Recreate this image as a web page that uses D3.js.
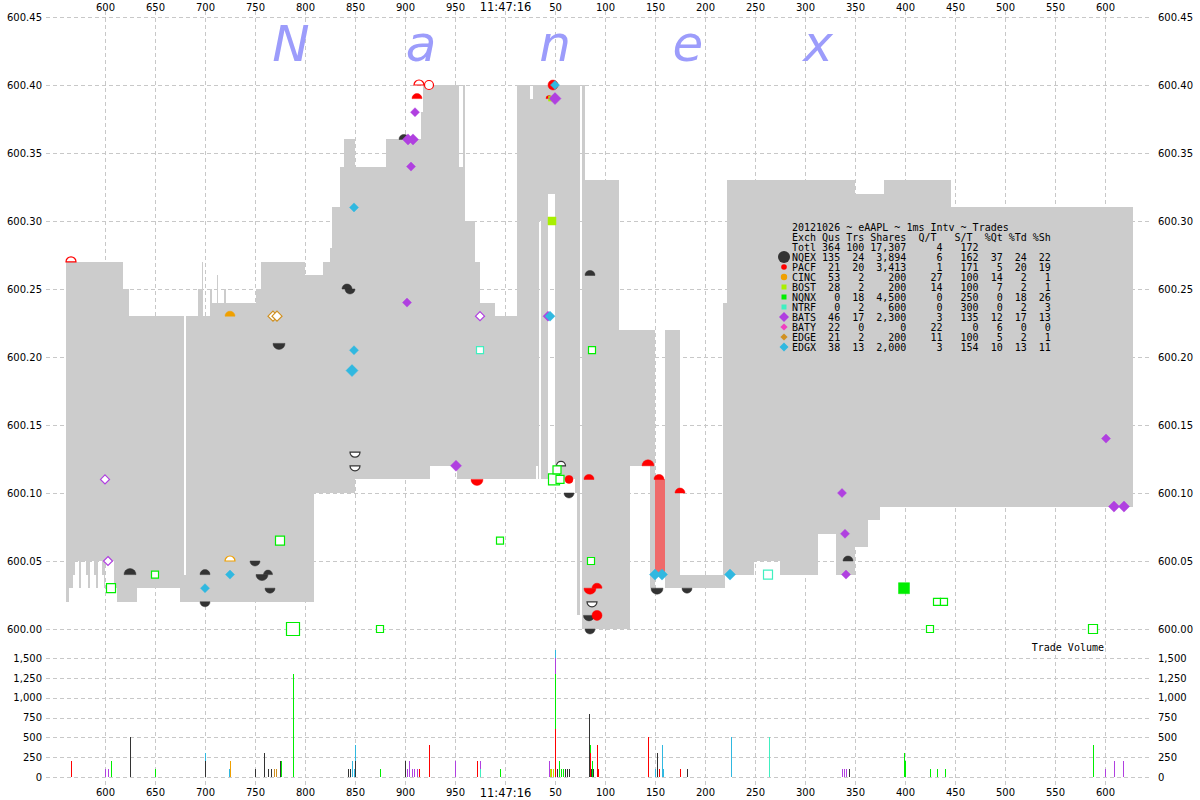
<!DOCTYPE html>
<html><head><meta charset="utf-8">
<script src="https://cdn.jsdelivr.net/npm/d3@7"></script>
<style>body{margin:0;background:#fff}svg{display:block}</style>
</head><body>
<svg id="c" width="1200" height="800"></svg>
<script>
// ---- NBBO step data (ms after 11:47:15.000) ----
const nbboTime = [561,564,568,570,574,576,581,583,585,589,591,593,597,599,600,609,612,618,624,632,675,679,681,693,697,698,705,707,712,713,719,721,751,756,800,809,818,825,827,835,839,850,881,916,918,925,952,954,958,960,970,975,990,1012,1025,1028,1031,1033,1034,1036,1043,1050,1070,1072,1075,1077,1080,1114,1125,1145,1150,1160,1175,1218,1220,1222,1249,1275,1313,1331,1350,1363,1375,1379,1446];
const nbboBid  = [600.02,600.03,600.04,600.05,600.03,600.05,600.04,600.03,600.05,600.04,600.03,600.05,600.04,600.03,600.05,600.03,600.02,600.02,600.02,600.03,600.02,600.02,600.02,600.02,600.02,600.02,600.02,600.02,600.02,600.02,600.02,600.02,600.02,600.02,600.02,600.10,600.10,600.10,600.10,600.10,600.10,600.11,600.11,600.11,600.11,600.12,600.11,600.11,600.11,600.11,600.11,600.11,600.11,600.11,600.11,600.11,600.12,600.11,600.30,600.11,600.32,600.11,600.10,600.01,600.40,600.00,600.00,600.00,600.12,600.03,600.11,600.03,600.03,600.03,600.04,600.04,600.05,600.04,600.07,600.04,600.06,600.08,600.09,600.09,600.09];
const nbboAsk  = [600.27,600.27,600.27,600.27,600.27,600.27,600.27,600.27,600.27,600.27,600.27,600.27,600.27,600.27,600.27,600.27,600.27,600.25,600.23,600.23,600.23,600.04,600.23,600.25,600.27,600.23,600.25,600.24,600.26,600.24,600.25,600.24,600.25,600.27,600.26,600.26,600.27,600.28,600.31,600.34,600.36,600.34,600.36,600.38,600.40,600.40,600.40,600.34,600.40,600.30,600.27,600.24,600.23,600.40,600.39,600.40,600.40,600.40,600.40,600.40,600.40,600.40,600.40,600.40,600.40,600.40,600.33,600.22,600.22,600.22,600.04,600.22,600.04,600.24,600.24,600.33,600.33,600.33,600.33,600.33,600.32,600.32,600.32,600.33,600.31];
const nbboEnd = 1628;

// ---- exchanges / legend ----
const exchanges = ["NQEX","PACF","CINC","BOST","NQNX","NTRF","BATS","BATY","EDGE","EDGX"];
const exColors  = ["#333333","#ff0000","#f0a000","#a8f000","#00ee00","#40f0c0","#b040e0","#f040c0","#d09020","#30b8e0"];
const legQus    = [135,21,53,28,0,0,46,22,21,38];
const legTrs    = [24,20,2,2,18,2,17,0,2,13];
const legShares = [3894,3413,200,200,4500,600,2300,0,200,2000];
const legQT     = [6,1,27,14,0,0,3,22,11,3];
const legST     = [162,171,100,100,250,300,135,0,100,154];
const legPQt    = [37,5,14,7,0,0,12,6,5,10];
const legPTd    = [24,20,2,2,18,2,17,0,2,13];
const legPSh    = [22,19,1,1,26,3,13,0,1,11];
const legTotal  = [364,100,17307,4,172];
const legTitle  = "20121026 ~ eAAPL ~ 1ms Intv ~ Trades";

// ---- quote / trade markers: [ms, price, exch, shape, filled, size] ----
const markers = [
 [566,600.27,"PACF","dome",0,5],
 [842,600.25,"NQEX","dome",1,5],[845,600.25,"NQEX","bowl",1,5],
 [725,600.23,"CINC","dome",1,5],
 [768,600.23,"EDGE","diamond",0,5],[772,600.23,"EDGE","diamond",0,5],
 [774,600.21,"NQEX","bowl",1,6],
 [849,600.205,"EDGX","diamond",1,4.5],[847,600.19,"EDGX","diamond",1,6],
 [850,600.13,"NQEX","bowl",0,5],[850,600.12,"NQEX","bowl",0,5],
 [600,600.11,"BATS","diamond",0,4.5],[603,600.05,"BATS","diamond",0,4.5],
 [625,600.04,"NQEX","dome",1,6],
 [650,600.04,"NQNX","square",0,7],[606,600.03,"NQNX","square",0,9],
 [700,600.04,"NQEX","dome",1,5],
 [725,600.04,"EDGX","diamond",1,4.5],[725,600.05,"CINC","dome",0,5],
 [750,600.05,"NQEX","bowl",1,5],[757,600.04,"NQEX","bowl",1,6],[763,600.04,"NQEX","dome",1,4.5],
 [700,600.03,"EDGX","diamond",1,4.5],[765,600.03,"NQEX","bowl",1,5],[700,600.02,"NQEX","bowl",1,5],
 [788,600.00,"NQNX","square",0,13],[775,600.065,"NQNX","square",0,9],[875,600.00,"NQNX","square",0,7],
 [914,600.40,"PACF","dome",0,5],[924,600.40,"PACF","circle",0,4.5],[912,600.39,"PACF","dome",1,5],
 [910,600.38,"BATS","diamond",1,4.5],[899,600.36,"NQEX","dome",1,5],
 [903,600.36,"BATS","diamond",1,5.5],[908,600.36,"BATS","diamond",1,5.5],[906,600.34,"BATS","diamond",1,4.5],
 [849,600.31,"EDGX","diamond",1,4.5],[902,600.24,"BATS","diamond",1,4.5],
 [975,600.23,"BATS","diamond",0,4.5],[975,600.205,"NTRF","square",0,7],
 [1043,600.23,"BATS","diamond",1,5],[1045,600.23,"EDGX","diamond",1,5],
 [1087,600.205,"NQNX","square",0,7],
 [951,600.12,"BATS","diamond",1,5.5],[972,600.11,"PACF","bowl",1,6],
 [1056,600.12,"NQEX","dome",0,4.5],
 [1049,600.11,"NQNX","square",0,11],[1052,600.117,"NQNX","square",0,8],[1055,600.11,"NQNX","square",0,8],
 [1064,600.11,"PACF","circle",1,4],
 [1085,600.26,"NQEX","dome",1,5],[1084,600.11,"PACF","dome",1,5],[1064,600.10,"NQEX","bowl",1,5],
 [1047,600.30,"BOST","square",1,8],
 [1048,600.40,"PACF","circle",1,5],[1050,600.40,"EDGX","diamond",1,4.5],
 [1044,600.39,"PACF","dome",1,3],[1046,600.39,"BOST","square",1,5],[1050,600.39,"BATS","diamond",1,6],
 [1143,600.12,"PACF","dome",1,6],[1154,600.11,"PACF","dome",1,5],[1175,600.10,"PACF","dome",1,5],
 [995,600.065,"NQNX","square",0,7],[1086,600.05,"NQNX","square",0,7],
 [1150,600.04,"EDGX","diamond",1,5.5],[1157,600.04,"EDGX","diamond",1,5.5],[1225,600.04,"EDGX","diamond",1,5.5],
 [1152,600.03,"NQEX","bowl",1,6],[1182,600.03,"NQEX","bowl",1,5],
 [1085,600.03,"PACF","bowl",1,6],[1092,600.03,"PACF","dome",1,5],
 [1087,600.02,"NQEX","bowl",0,5],[1084,600.01,"NQEX","bowl",1,5.5],[1092,600.01,"PACF","circle",1,5],
 [1085,600.00,"NQEX","bowl",1,5],
 [1601,600.14,"BATS","diamond",1,4.5],[1609,600.09,"BATS","diamond",1,5.5],[1619,600.09,"BATS","diamond",1,5.5],
 [1337,600.10,"BATS","diamond",1,4.5],[1340,600.07,"BATS","diamond",1,4.5],
 [1343,600.05,"NQEX","dome",1,5],[1341,600.04,"BATS","diamond",1,4.5],
 [1263,600.04,"NTRF","square",0,9],[1399,600.03,"NQNX","square",1,11],
 [1432,600.02,"NQNX","square",0,7],[1439,600.02,"NQNX","square",0,7],
 [1425,600.00,"NQNX","square",0,7],[1588,600.00,"NQNX","square",0,9]
];

// ---- trade volume: [ms, exch, shares] ----
const volumes = [
 [566,"PACF",200],[600,"BATS",100],[603,"BATS",100],[606,"NQNX",200],[625,"NQEX",500],[650,"NQNX",100],
 [700,"NQEX",200],[700,"EDGX",100],[724,"EDGX",100],[725,"CINC",200],[750,"NQEX",100],[759,"NQEX",300],
 [763,"NQEX",100],[766,"NQEX",100],[769,"EDGE",100],[771,"EDGE",100],[775,"NQEX",200],[776,"NQNX",200],
 [788,"NQNX",1300],[843,"NQEX",100],[845,"NQEX",100],[847,"EDGX",200],[849,"EDGX",100],
 [850,"NQEX",200],[850,"EDGX",200],[875,"NQNX",100],[900,"NQEX",200],[902,"BATS",100],[904,"BATS",200],
 [907,"BATS",100],[909,"BATS",100],[912,"BATS",100],[914,"PACF",100],[924,"PACF",400],[950,"BATS",200],
 [972,"PACF",200],[975,"NTRF",100],[975,"BATS",100],[995,"NQNX",100],
 [1044,"BATS",200],[1045,"BOST",100],[1046,"CINC",100],[1048,"BOST",100],
 [1050,"PACF",600],[1050,"NQNX",700],[1050,"BATS",200],[1050,"EDGX",100],
 [1052,"NQEX",100],[1054,"NQNX",200],[1056,"NQNX",100],[1058,"NQNX",100],[1060,"NQEX",100],[1062,"NQEX",100],[1064,"NQEX",100],
 [1084,"NQEX",800],[1085,"PACF",300],[1085,"NQNX",100],[1086,"NQEX",100],[1087,"NQNX",200],[1088,"NQEX",100],
 [1092,"PACF",400],[1093,"PACF",100],
 [1143,"PACF",500],[1150,"EDGX",100],[1152,"NQEX",300],[1154,"PACF",100],[1157,"EDGX",400],[1158,"EDGX",100],
 [1175,"PACF",100],[1182,"NQEX",100],[1226,"EDGX",500],[1264,"NTRF",500],
 [1337,"BATS",100],[1339,"BATS",100],[1341,"BATS",100],[1344,"NQEX",100],
 [1399,"NQNX",300],[1400,"NQNX",200],[1425,"NQNX",100],[1432,"NQNX",100],[1440,"NQNX",100],
 [1588,"NQNX",400],[1600,"BATS",100],[1609,"BATS",200],[1618,"BATS",200]
];

const timeTicks  = d3.range(600, 1601, 50);
const priceTicks = d3.range(0, 10).map(i => 600 + i * 0.05);
const volTicks   = [0,250,500,750,1000,1250,1500];
const watermark  = ["N","a","n","e","x"];
const watermarkT = [786, 916, 1050, 1183, 1313];

// ---- scales ----
const svg = d3.select("#c");
const x  = d3.scaleLinear().domain([541, 1646]).range([46, 1151]);
const y  = d3.scaleLinear().domain([600.00, 600.45]).range([629, 17]);
const yv = d3.scaleLinear().domain([0, 1500]).range([777, 658]);
const col = d3.scaleOrdinal().domain(exchanges).range(exColors);
const FONT = "'DejaVu Sans', Verdana, sans-serif";
const MONO = "'DejaVu Sans Mono', monospace";

svg.append("rect").attr("width",1200).attr("height",800).attr("fill","#fff");

// ---- grid ----
const grid = svg.append("g").attr("stroke","#c8c8c8").attr("stroke-dasharray","4,3").attr("shape-rendering","crispEdges");
grid.selectAll(".vx").data(timeTicks).join("line")
  .attr("x1",d=>x(d)+0.5).attr("x2",d=>x(d)+0.5).attr("y1",11).attr("y2",787);
grid.selectAll(".hp").data(priceTicks).join("line")
  .attr("x1",46).attr("x2",1151).attr("y1",d=>Math.round(y(d))+0.5).attr("y2",d=>Math.round(y(d))+0.5);
grid.selectAll(".hv").data(volTicks).join("line")
  .attr("x1",46).attr("x2",1151).attr("y1",d=>Math.round(yv(d))+0.5).attr("y2",d=>Math.round(yv(d))+0.5);

// ---- watermark ----
svg.append("g").selectAll("text").data(watermark).join("text")
  .attr("x",(d,i)=>x(watermarkT[i])).attr("y",61).attr("text-anchor","middle")
  .attr("font-family",FONT).attr("font-style","italic").attr("font-size",50)
  .attr("fill","#9c9cfb").text(d=>d);

// ---- NBBO spread ----
const segs = nbboTime.map((t,i)=>({t0:t, t1: i<nbboTime.length-1 ? nbboTime[i+1] : nbboEnd, bid:nbboBid[i], ask:nbboAsk[i]}));
svg.append("g").attr("shape-rendering","crispEdges").selectAll("rect").data(segs).join("rect")
  .attr("x",d=>x(d.t0)).attr("width",d=>x(d.t1)-x(d.t0))
  .attr("y",d=>Math.round(y(Math.max(d.bid,d.ask))))
  .attr("height",d=>Math.abs(Math.round(y(d.bid))-Math.round(y(d.ask))))
  .attr("fill",d=>d.bid>d.ask ? "#ef6a6a" : "#cccccc");

// ---- markers ----
function shapePath(shape, cx, cy, s){
  if(shape==="dome") return `M${cx-s},${cy}A${s},${s} 0 0 1 ${cx+s},${cy}Z`;
  if(shape==="bowl") return `M${cx-s},${cy}A${s},${s} 0 0 0 ${cx+s},${cy}Z`;
  if(shape==="diamond") return `M${cx},${cy-s}L${cx+s},${cy}L${cx},${cy+s}L${cx-s},${cy}Z`;
  if(shape==="square") return `M${cx-s/2},${cy-s/2}h${s}v${s}h${-s}Z`;
  return `M${cx-s},${cy}A${s},${s} 0 1 0 ${cx+s},${cy}A${s},${s} 0 1 0 ${cx-s},${cy}Z`;
}
svg.append("g").selectAll("path").data(markers).join("path")
  .attr("d",d=>shapePath(d[3], x(d[0]), y(d[1]), d[5]))
  .attr("fill",d=>d[4] ? col(d[2]) : "#fff")
  .attr("stroke",d=>col(d[2])).attr("stroke-width",d=>d[4]?0.5:1.2);

// ---- volume bars (stacked per ms) ----
const stackTop = {};
const volBars = volumes.map(v=>{ const b = stackTop[v[0]]||0; stackTop[v[0]] = b+v[2]; return {t:v[0], ex:v[1], y0:b, y1:b+v[2]}; });
svg.append("g").attr("shape-rendering","crispEdges").selectAll("rect").data(volBars).join("rect")
  .attr("x",d=>x(d.t)).attr("width",1.4)
  .attr("y",d=>yv(d.y1)).attr("height",d=>yv(d.y0)-yv(d.y1))
  .attr("fill",d=>col(d.ex));

// ---- axes ----
const tfmt = t => t===1000 ? "11:47:16" : String(t%1000);
function styleAxis(g){
  g.select(".domain").remove();
  g.selectAll("text").attr("font-family",FONT).attr("font-size",10).attr("fill","#000");
}
svg.append("g").attr("transform","translate(0,12)")
  .call(d3.axisTop(x).tickValues(timeTicks).tickFormat(tfmt).tickSize(0).tickPadding(1)).call(styleAxis)
  .selectAll("text").filter(d=>d===1000).attr("font-size",11.5);
svg.append("g").attr("transform","translate(0,789)")
  .call(d3.axisBottom(x).tickValues(timeTicks).tickFormat(tfmt).tickSize(0).tickPadding(0)).call(styleAxis)
  .selectAll("text").filter(d=>d===1000).attr("font-size",11.5);
const pfmt = d3.format(".2f");
svg.append("g").attr("transform","translate(42,0)")
  .call(d3.axisLeft(y).tickValues(priceTicks).tickFormat(pfmt).tickSize(0).tickPadding(0)).call(styleAxis);
svg.append("g").attr("transform","translate(1158,0)")
  .call(d3.axisRight(y).tickValues(priceTicks).tickFormat(pfmt).tickSize(0).tickPadding(0)).call(styleAxis);
const vfmt = d3.format(",");
svg.append("g").attr("transform","translate(42,0)")
  .call(d3.axisLeft(yv).tickValues(volTicks).tickFormat(vfmt).tickSize(0).tickPadding(0)).call(styleAxis);
svg.append("g").attr("transform","translate(1158,0)")
  .call(d3.axisRight(yv).tickValues(volTicks).tickFormat(vfmt).tickSize(0).tickPadding(0)).call(styleAxis);
svg.selectAll(".tick line").remove();

svg.append("text").attr("x",1104).attr("y",651).attr("text-anchor","end")
  .attr("font-family",MONO).attr("font-size",10).text("Trade Volume");

// ---- legend ----
const pad = (v,w)=>String(v).padStart(w," ");
const cf = d3.format(",");
const legLines = [
  legTitle,
  "Exch Qus Trs Shares  Q/T   S/T  %Qt %Td %Sh",
  "Totl " + pad(legTotal[0],3)+" "+pad(legTotal[1],3)+" "+pad(cf(legTotal[2]),6)+pad(legTotal[3],6)+pad(legTotal[4],6)
].concat(exchanges.map((e,i)=> e+" "+pad(legQus[i],3)+" "+pad(legTrs[i],3)+" "+pad(cf(legShares[i]),6)+pad(legQT[i],6)+pad(legST[i],6)+pad(legPQt[i],4)+pad(legPTd[i],4)+pad(legPSh[i],4)));
const leg = svg.append("g");
leg.selectAll("text").data(legLines).join("text")
  .attr("x",792).attr("y",(d,i)=>231+i*10).attr("font-family",MONO).attr("font-size",10)
  .attr("fill","#000").style("white-space","pre").text(d=>d);
const legShape = ["circle","circle","circle","square","square","square","diamond","diamond","diamond","diamond"];
const legSize  = [6,2.8,3.2,5,5,5,5,3.6,3.6,4.5];
leg.selectAll("path").data(exchanges).join("path")
  .attr("d",(d,i)=>shapePath(legShape[i], 784, 257+i*10, legSize[i]))
  .attr("fill",d=>col(d));
</script>
</body></html>
